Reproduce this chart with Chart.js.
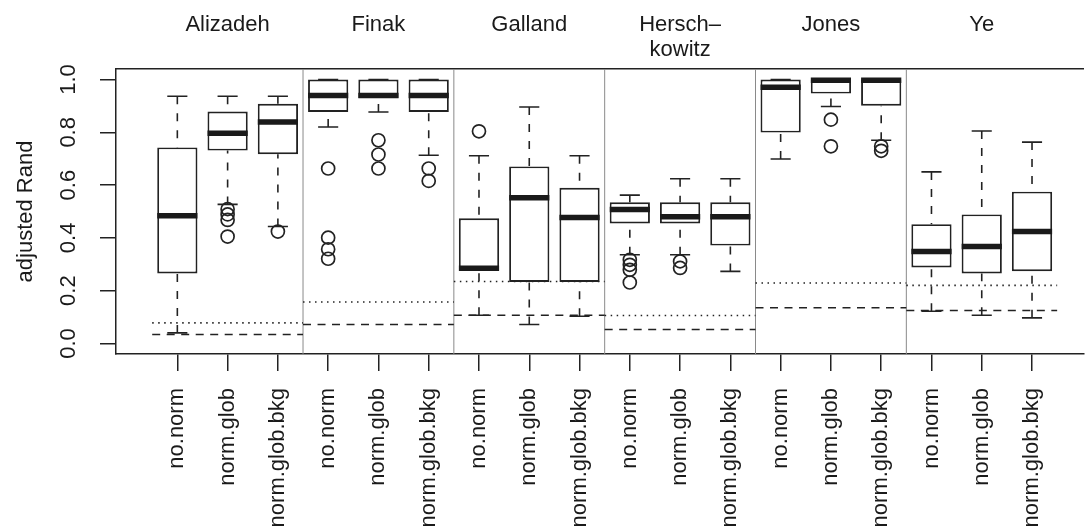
<!DOCTYPE html>
<html>
<head>
<meta charset="utf-8">
<script src="https://cdn.jsdelivr.net/npm/chart.js@4.4.1/dist/chart.umd.min.js"></script>
<style>
    html, body { margin: 0; padding: 0; background: #fff; }
</style>
</head>
<body>
<canvas id="randChart" width="1092" height="530"></canvas>
<script>
// panels and methods, in plotting order (3 boxes per panel)
const groups = ['Alizadeh', 'Finak', 'Galland', ['Hersch\u2013', 'kowitz'], 'Jones', 'Ye'];
const methods = ['no.norm', 'norm.glob', 'norm.glob.bkg'];
const yTicks = [0, 0.2, 0.4, 0.6, 0.8, 1.0];
const separators = [3.5, 6.5, 9.5, 12.5, 15.5];

// box statistics
const lowWhisker  = [0.040, 0.527, 0.443, 0.820, 0.877, 0.713, 0.107, 0.072, 0.103, 0.336, 0.336, 0.273, 0.699, 0.898, 0.770, 0.122, 0.107, 0.097];
const lowerQuart  = [0.265, 0.731, 0.717, 0.877, 0.930, 0.877, 0.278, 0.233, 0.233, 0.455, 0.455, 0.371, 0.799, 0.947, 0.901, 0.288, 0.265, 0.274];
const medians     = [0.484, 0.797, 0.839, 0.940, 0.940, 0.940, 0.285, 0.552, 0.477, 0.508, 0.480, 0.480, 0.971, 0.997, 0.997, 0.348, 0.367, 0.424];
const upperQuart  = [0.743, 0.879, 0.908, 1.000, 1.000, 1.000, 0.474, 0.671, 0.590, 0.535, 0.535, 0.535, 1.000, 1.000, 1.000, 0.452, 0.489, 0.575];
const highWhisker = [0.937, 0.937, 0.937, 1.000, 1.000, 1.000, 0.711, 0.896, 0.711, 0.562, 0.624, 0.624, 1.000, 1.000, 1.000, 0.650, 0.805, 0.763];
const outliers = [
    [], [0.509, 0.489, 0.468, 0.405], [0.424],
    [0.663, 0.401, 0.357, 0.321], [0.770, 0.716, 0.663], [0.663, 0.616],
    [0.804], [], [],
    [0.317, 0.298, 0.279, 0.231], [0.311, 0.286], [],
    [], [0.848, 0.747], [0.747, 0.730],
    [], [], []
];

// per-panel reference levels
const dottedRef = [0.078, 0.157, 0.235, 0.106, 0.229, 0.220];
const dashedRef = [0.034, 0.072, 0.107, 0.053, 0.135, 0.125];

const Y_MIN = -0.04, Y_MAX = 1.04;
const X_MIN = -0.22, X_MAX = 19.03;
const INK = '#222';

Chart.defaults.font.family = "'Liberation Sans', Arial, sans-serif";
Chart.defaults.font.size = 22;
Chart.defaults.color = '#1a1a1a';

// turn [x1, y1, x2, y2] pieces into one line dataset with gaps
function segmentData(segs) {
    const out = [];
    segs.forEach(s => {
        out.push({x: s[0], y: s[1]}, {x: s[2], y: s[3]}, {x: s[2], y: null});
    });
    return out;
}

function lineSet(segs, opts) {
    return Object.assign({
        type: 'line',
        data: segmentData(segs),
        borderColor: INK,
        borderWidth: 1.6,
        pointRadius: 0,
        pointHoverRadius: 0,
        fill: false,
        tension: 0
    }, opts);
}

const pos = i => i + 1;

const whiskerSegs = [];
const capSegs = [];
const medianSegs = [];
lowWhisker.forEach((lo, i) => {
    const p = pos(i);
    whiskerSegs.push([p, highWhisker[i], p, upperQuart[i]]);
    whiskerSegs.push([p, lo, p, lowerQuart[i]]);
    capSegs.push([p - 0.2, highWhisker[i], p + 0.2, highWhisker[i]]);
    capSegs.push([p - 0.2, lo, p + 0.2, lo]);
    medianSegs.push([p - 0.4, medians[i], p + 0.4, medians[i]]);
});

const dottedSegs = dottedRef.map((v, g) => [g * 3 + 0.5, v, g * 3 + 3.5, v]);
const dashedSegs = dashedRef.map((v, g) => [g * 3 + 0.5, v, g * 3 + 3.5, v]);
const sepSegs = separators.map(s => [s, Y_MIN, s, Y_MAX]);

const outlierPoints = [];
outliers.forEach((list, i) => {
    list.forEach(v => outlierPoints.push({x: pos(i), y: v}));
});

const ctx = document.getElementById('randChart').getContext('2d');
new Chart(ctx, {
    type: 'bar',
    data: {
        datasets: [
            lineSet(sepSegs, {borderColor: '#8a8a8a', borderWidth: 1, order: 7}),
            lineSet(dottedSegs, {borderDash: [1.5, 4.5], order: 6}),
            lineSet(dashedSegs, {borderDash: [8, 6.5], order: 6}),
            lineSet(whiskerSegs, {borderDash: [8, 9], order: 5}),
            lineSet(capSegs, {order: 4}),
            {
                type: 'bar',
                data: lowerQuart.map((q, i) => ({x: pos(i), y: [q, upperQuart[i]]})),
                backgroundColor: '#ffffff',
                borderColor: INK,
                borderWidth: 1.9,
                borderSkipped: false,
                barPercentage: 0.8,
                categoryPercentage: 1.0,
                order: 3
            },
            lineSet(medianSegs, {borderWidth: 5.5, borderCapStyle: 'butt', borderColor: '#1a1a1a', order: 2}),
            {
                type: 'line',
                data: outlierPoints,
                showLine: false,
                pointRadius: 6.5,
                pointHoverRadius: 6.5,
                pointBorderWidth: 1.7,
                pointBorderColor: INK,
                pointBackgroundColor: 'rgba(0,0,0,0)',
                clip: false,
                order: 1
            }
        ]
    },
    options: {
        responsive: false,
        animation: false,
        events: [],
        layout: { padding: 0 },
        plugins: {
            legend: { display: false },
            tooltip: { enabled: false }
        },
        scales: {
            x: {
                type: 'linear',
                position: 'bottom',
                min: X_MIN,
                max: X_MAX,
                offset: false,
                afterBuildTicks: scale => { scale.ticks = medians.map((m, i) => ({value: pos(i)})); },
                afterFit: scale => { scale.height = 176; },
                grid: { drawOnChartArea: false, offset: false, tickLength: 17, color: INK, lineWidth: 1.5 },
                border: { color: INK, width: 1.5 },
                ticks: {
                    autoSkip: false,
                    minRotation: 90,
                    maxRotation: 90,
                    padding: 17,
                    callback: (value, index) => methods[index % methods.length]
                }
            },
            xTop: {
                type: 'linear',
                position: 'top',
                min: X_MIN,
                max: X_MAX,
                offset: false,
                afterBuildTicks: scale => { scale.ticks = groups.map((g, i) => ({value: i * 3 + 2})); },
                afterFit: scale => { scale.height = 69; },
                grid: { display: false, drawTicks: false, offset: false },
                border: { display: true, color: INK, width: 1.5 },
                ticks: {
                    autoSkip: false,
                    minRotation: 0,
                    maxRotation: 0,
                    crossAlign: 'far',
                    padding: 6,
                    font: { lineHeight: 1.15 },
                    callback: (value, index) => groups[index]
                }
            },
            y: {
                type: 'linear',
                min: Y_MIN,
                max: Y_MAX,
                afterBuildTicks: scale => { scale.ticks = yTicks.map(v => ({value: v})); },
                afterFit: scale => { scale.width = 116; },
                grid: { drawOnChartArea: false, tickLength: 16, color: INK, lineWidth: 1.5 },
                border: { color: INK, width: 1.5 },
                ticks: {
                    minRotation: 90,
                    maxRotation: 90,
                    crossAlign: 'center',
                    padding: 16,
                    callback: value => value.toFixed(1)
                },
                title: {
                    display: true,
                    text: 'adjusted Rand',
                    padding: { top: 13, bottom: 0 }
                }
            }
        }
    }
});
</script>
</body>
</html>
